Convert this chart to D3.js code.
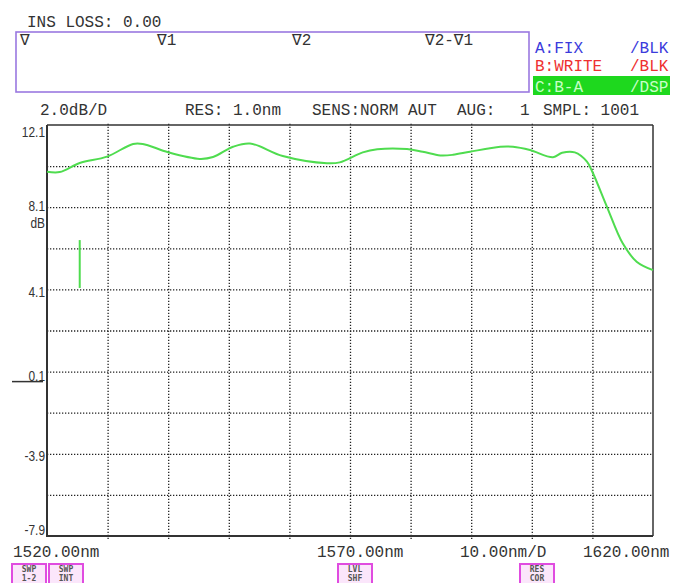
<!DOCTYPE html>
<html><head><meta charset="utf-8">
<script src="https://cdn.jsdelivr.net/npm/d3@7/dist/d3.min.js"></script>
<style>
html,body{margin:0;padding:0;background:#fff;}
svg{display:block;}
.mono{font-family:"Liberation Mono","DejaVu Sans Mono",monospace;font-size:16px;fill:#333;}
</style></head>
<body><svg id="c" width="682" height="583"></svg>
<script>
// ---- data ----
const wavelength = [1520.0,1522.1,1525.4,1529.9,1534.2,1535.8,1540.0,1545.2,1547.4,1550.7,1553.5,1558.9,1566.2,1568.3,1572.1,1574.5,1579.4,1582.0,1584.9,1587.0,1589.8,1594.8,1596.9,1599.7,1603.5,1605.0,1607.1,1609.1,1610.1,1612.4,1615.0,1617.3,1620.0];
const levelDB   = [9.83,9.81,10.25,10.56,11.18,11.18,10.77,10.45,10.54,11.04,11.20,10.59,10.24,10.28,10.77,10.92,10.93,10.80,10.62,10.65,10.80,11.04,11.04,10.88,10.53,10.75,10.77,10.32,9.75,8.12,6.34,5.45,5.04];
const spikeWl = [1525.4,1525.4];
const spikeDB = [6.50,4.17];
const xDomain = [1520,1620];
const yDomain = [-7.9,12.1];
const xGrid = [1530,1540,1550,1560,1570,1580,1590,1600,1610];
const yGrid = [10.1,8.1,6.1,4.1,2.1,0.1,-1.9,-3.9,-5.9];
const yLabels = [12.1,8.1,4.1,0.1,-3.9,-7.9];
const yLabelText = ["12.1","8.1","4.1","0.1","-3.9","-7.9"];
const xLabels = ["1520.00nm","1570.00nm","10.00nm/D","1620.00nm"];
const markers = ["∇","∇1","∇2","∇2-∇1"];
const headerLine = ["2.0dB/D","RES: 1.0nm","SENS:NORM AUT","AUG:","1","SMPL: 1001"];
const traces = [["A:FIX","/BLK"],["B:WRITE","/BLK"],["C:B-A","/DSP"]];
const softKeys = [["SWP","1-2"],["SWP","INT"],["LVL","SHF"],["RES","COR"]];

// ---- layout ----
const svg = d3.select("#c");
const L=47,R=653,T=125,B=536;
const x = d3.scaleLinear().domain(xDomain).range([L,R]);
const y = d3.scaleLinear().domain(yDomain).range([B,T]);

// header
svg.append("text").attr("class","mono").attr("x",27).attr("y",27).text("INS LOSS: 0.00");
svg.append("rect").attr("x",16).attr("y",32).attr("width",513).attr("height",60)
  .attr("fill","none").attr("stroke","#9a78e0").attr("stroke-width",1.6);
const markerX=[20,157,292,425];
markers.forEach((m,i)=>svg.append("text").attr("class","mono").attr("x",markerX[i]).attr("y",45).text(m));

const trCol=["#3b3bdc","#ee3030","#c8ffc8"];
const trY=[53,71,92];
svg.append("rect").attr("x",533).attr("y",76).attr("width",137).attr("height",19).attr("fill","#1ed81e");
traces.forEach((t,i)=>{
  svg.append("text").attr("class","mono").attr("x",535).attr("y",trY[i]).style("fill",trCol[i]).text(t[0]);
  svg.append("text").attr("class","mono").attr("x",630).attr("y",trY[i]).style("fill",trCol[i]).text(t[1]);
});
const hX=[40,185,312,457,520,543];
headerLine.forEach((h,i)=>svg.append("text").attr("class","mono").attr("x",hX[i]).attr("y",115).text(h));

// grid via axes
const gx = svg.append("g").attr("transform",`translate(0,${B+3})`)
  .call(d3.axisBottom(x).tickValues(xGrid).tickSize(-(B-T+6)).tickFormat(""));
const gy = svg.append("g").attr("transform",`translate(${L},0)`)
  .call(d3.axisLeft(y).tickValues(yGrid).tickSize(-(R-L)).tickFormat(""));
[gx,gy].forEach(g=>{
  g.select(".domain").remove();
  g.selectAll(".tick line").attr("stroke","#222").attr("stroke-width",1.3).attr("stroke-dasharray","1.3,1.7");
});

// frame
svg.append("line").attr("x1",L).attr("x2",R).attr("y1",T).attr("y2",T).attr("stroke","#333").attr("stroke-width",1.5);
svg.append("line").attr("x1",R).attr("x2",R).attr("y1",T).attr("y2",B).attr("stroke","#333").attr("stroke-width",1.5);
svg.append("line").attr("x1",L).attr("x2",L).attr("y1",T).attr("y2",B+1).attr("stroke","#333").attr("stroke-width",2);
svg.append("line").attr("x1",L).attr("x2",R).attr("y1",B).attr("y2",B).attr("stroke","#333").attr("stroke-width",2);

// y labels
const dyOff=[12,4,8,9,7,-1];
const lblStyle = s=>s.attr("text-anchor","end").style("font-family","Liberation Sans, Arial, sans-serif")
    .style("font-size","14px").style("fill","#333");
yLabels.forEach((v,i)=>{
  svg.append("text").attr("transform",`translate(45,${y(v)+dyOff[i]}) scale(0.85,1.05)`)
    .call(lblStyle).text(yLabelText[i]);
});
svg.append("text").attr("transform",`translate(45,${y(8.1)+21}) scale(0.85,1.05)`)
  .call(lblStyle).text("dB");
svg.append("line").attr("x1",12).attr("x2",43).attr("y1",y(0.1)+10).attr("y2",y(0.1)+10)
  .attr("stroke","#333").attr("stroke-width",1.5);

// trace
const pts = wavelength.map((w,i)=>[w,levelDB[i]]);
const line = d3.line().x(d=>x(d[0])).y(d=>y(d[1])).curve(d3.curveCatmullRom.alpha(0.5));
svg.append("path").datum(pts).attr("d",line).attr("fill","none").attr("stroke","#4fdc4f").attr("stroke-width",2);
svg.append("path").datum(spikeWl.map((w,i)=>[w,spikeDB[i]])).attr("d",d3.line().x(d=>x(d[0])).y(d=>y(d[1])))
  .attr("fill","none").attr("stroke","#4fdc4f").attr("stroke-width",2);

// x labels
const xlX=[13,317,460,583];
xLabels.forEach((t,i)=>svg.append("text").attr("class","mono").attr("x",xlX[i]).attr("y",557).text(t));

// soft keys
const skX=[12,49,338,520];
softKeys.forEach((k,i)=>{
  const g=svg.append("g").attr("transform",`translate(${skX[i]},564)`);
  g.append("rect").attr("x",0).attr("y",0).attr("width",34).attr("height",20)
    .attr("fill","#fbe6fb").attr("stroke","#e04ce0").attr("stroke-width",2);
  k.forEach((s,j)=>g.append("text").attr("x",17).attr("y",8+j*9).attr("text-anchor","middle")
    .style("font-family","DejaVu Sans Mono, monospace").style("font-size","8px").style("font-weight","bold")
    .style("fill","#555").text(s));
});
</script></body></html>
